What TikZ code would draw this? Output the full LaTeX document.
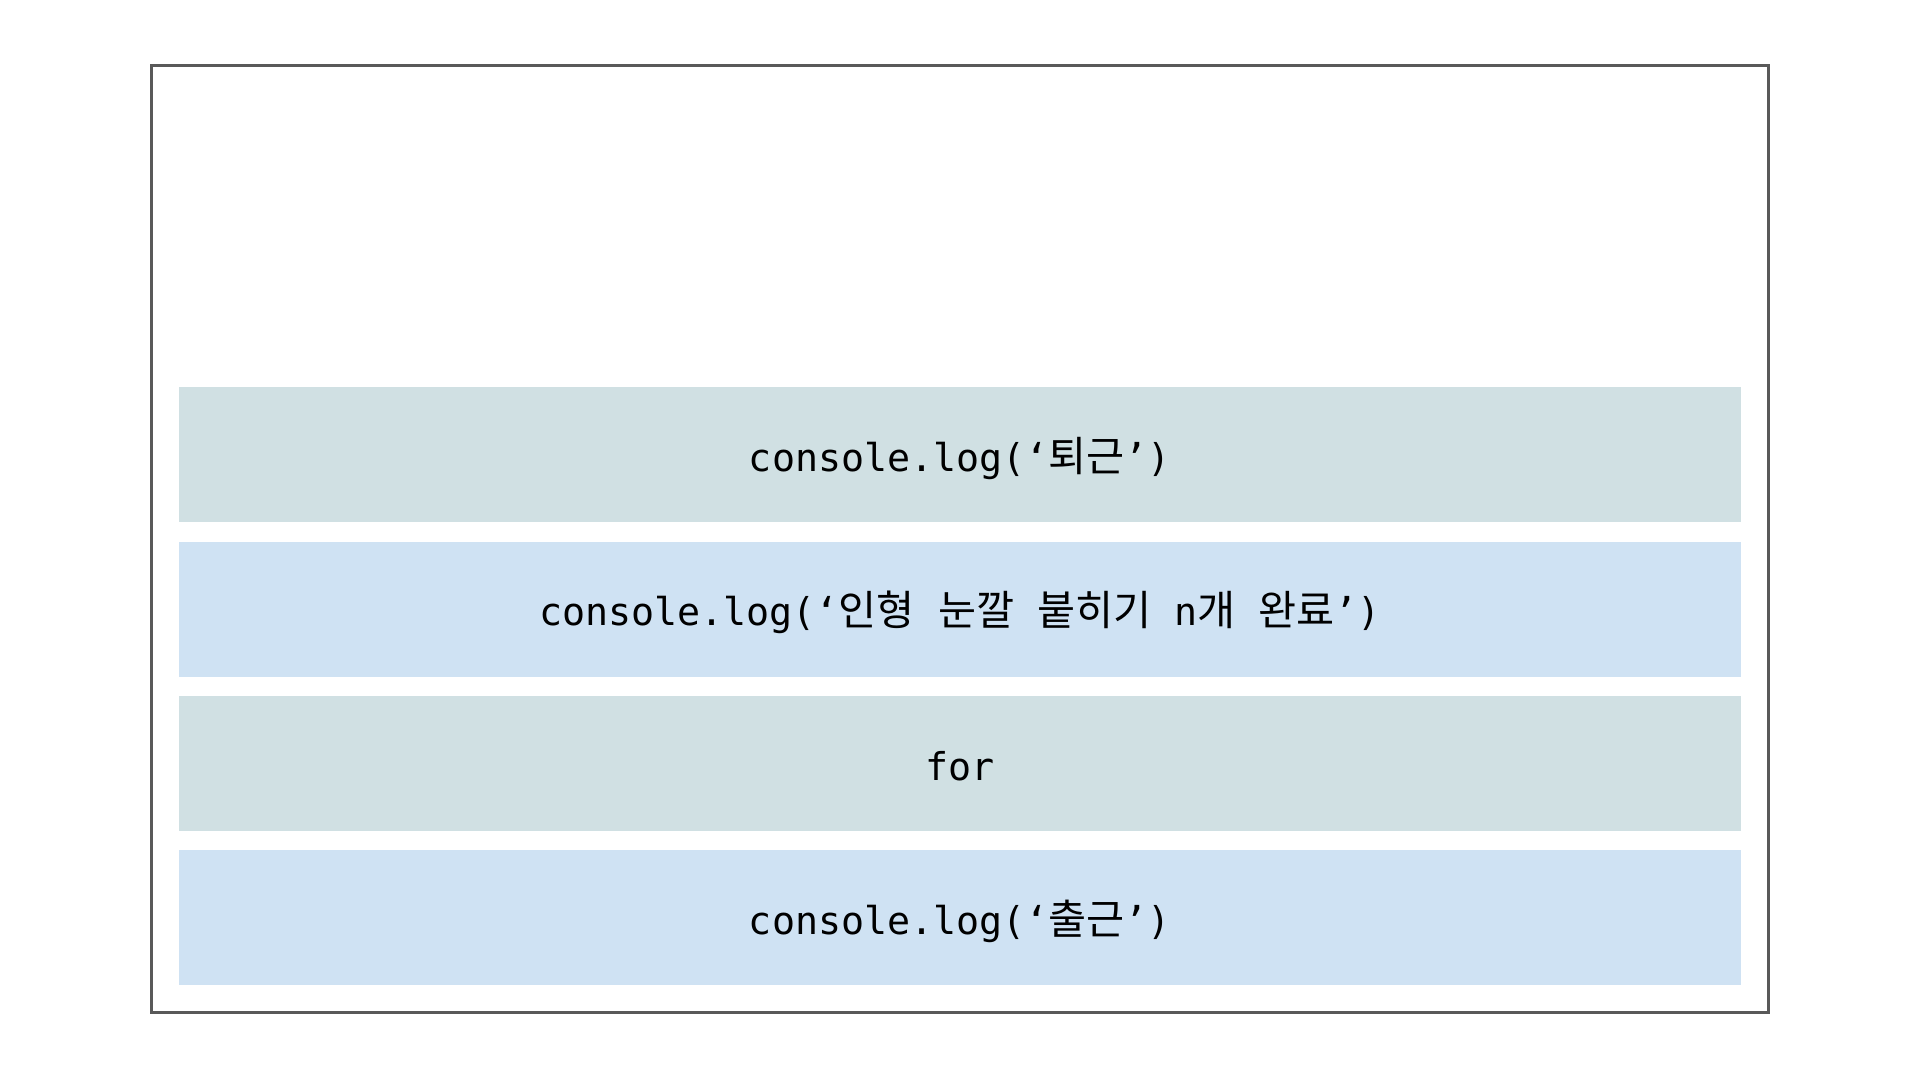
\documentclass[tikz,border=0pt]{standalone}
\usepackage{fontspec}
\setmonofont{DejaVu Sans Mono}
\newfontfamily\kr[Scale=1.08]{Noto Sans CJK KR}
\usetikzlibrary{positioning}
\definecolor{tealbox}{HTML}{D0E0E3}
\definecolor{bluebox}{HTML}{CFE2F3}
\definecolor{frame}{HTML}{595959}
\tikzset{
    stackbox/.style={minimum width=15.62cm, minimum height=1.35cm, inner sep=0pt,
        text height=1.15em, text depth=0.2em,
        font=\ttfamily\fontsize{10.9}{12}\selectfont},
}
\begin{document}
\begin{tikzpicture}
    \useasboundingbox (0,0) rectangle (19.2,10.8);
    \draw[frame, line width=0.03cm] (1.51,0.67) rectangle (17.68,10.14);

    \node[stackbox, fill=bluebox] (clockin) at (9.6,1.62) {console.log(‘{\kr 출근}’)};
    \node[stackbox, fill=tealbox, above=0.18 of clockin] (loop) {for};
    \node[stackbox, fill=bluebox, above=0.18 of loop] (work) {console.log(‘{\kr 인형} {\kr 눈깔} {\kr 붙히기} n{\kr 개} {\kr 완료}’)};
    \node[stackbox, fill=tealbox, above=0.18 of work] (clockout) {console.log(‘{\kr 퇴근}’)};

\end{tikzpicture}
\end{document}
